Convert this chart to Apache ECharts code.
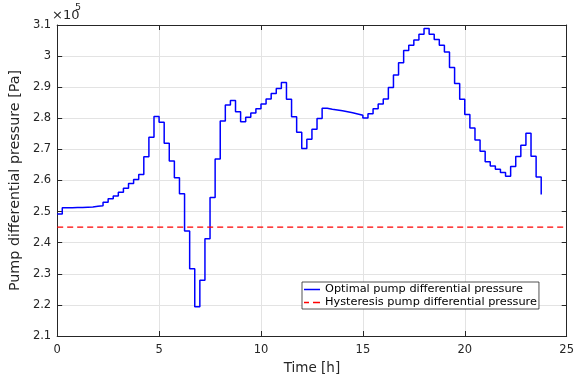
<!DOCTYPE html>
<html>
<head>
<meta charset="utf-8">
<script src="https://cdn.jsdelivr.net/npm/echarts@6/dist/echarts.min.js"></script>
<style>
  html, body { margin: 0; padding: 0; background: #ffffff; }
  #chart { width: 577px; height: 380px; }
</style>
</head>
<body>
<div id="chart"></div>
<script>
// Time [h] at the start of each 15-minute step
const times = [
  0, 0.25, 0.5, 0.75, 1, 1.25, 1.5, 1.75, 2, 2.25, 2.5, 2.75,
  3, 3.25, 3.5, 3.75, 4, 4.25, 4.5, 4.75, 5, 5.25, 5.5, 5.75,
  6, 6.25, 6.5, 6.75, 7, 7.25, 7.5, 7.75, 8, 8.25, 8.5, 8.75,
  9, 9.25, 9.5, 9.75, 10, 10.25, 10.5, 10.75, 11, 11.25, 11.5, 11.75,
  12, 12.25, 12.5, 12.75, 13, 13.25, 13.5, 13.75, 14, 14.25, 14.5, 14.75,
  15, 15.25, 15.5, 15.75, 16, 16.25, 16.5, 16.75, 17, 17.25, 17.5, 17.75,
  18, 18.25, 18.5, 18.75, 19, 19.25, 19.5, 19.75, 20, 20.25, 20.5, 20.75,
  21, 21.25, 21.5, 21.75, 22, 22.25, 22.5, 22.75, 23, 23.25, 23.5, 23.75
];
// Optimal pump differential pressure [x1e5 Pa]
const optimalPressure = [
  2.492, 2.512, 2.512, 2.513, 2.513, 2.514, 2.515, 2.517, 2.519, 2.530, 2.541, 2.550,
  2.562, 2.575, 2.590, 2.603, 2.619, 2.676, 2.739, 2.806, 2.787, 2.720, 2.663, 2.609,
  2.557, 2.438, 2.316, 2.194, 2.279, 2.413, 2.545, 2.669, 2.791, 2.843, 2.857, 2.821,
  2.789, 2.803, 2.817, 2.831, 2.846, 2.862, 2.880, 2.896, 2.915, 2.861, 2.805, 2.755,
  2.703, 2.733, 2.765, 2.799, 2.832, 2.829, 2.827, 2.824, 2.821, 2.818, 2.814, 2.810,
  2.801, 2.815, 2.831, 2.846, 2.862, 2.899, 2.939, 2.979, 3.018, 3.035, 3.052, 3.070,
  3.089, 3.070, 3.053, 3.035, 3.013, 2.963, 2.912, 2.861, 2.812, 2.769, 2.730, 2.694,
  2.660, 2.647, 2.636, 2.626, 2.614, 2.645, 2.677, 2.713, 2.752, 2.678, 2.611, 2.555
];
// Hysteresis pump differential pressure [x1e5 Pa]
const hysteresisTimes = [0, 25];
const hysteresisPressure = [2.45, 2.45];

const seriesNames = ['Optimal pump differential pressure', 'Hysteresis pump differential pressure'];
const xLabel = 'Time [h]';
const yLabel = 'Pump differential pressure [Pa]';

const FONT = 'DejaVu Sans';
const AX = '#262626';
const GRID = '#e3e3e3';

const chart = echarts.init(document.getElementById('chart'), null, { renderer: 'canvas' });

function yFmt(v) { return String(parseFloat(Number(v).toFixed(1))); }

const commonX = {
  type: 'value', min: 0, max: 25, interval: 5,
  axisLine: { show: true, onZero: false, lineStyle: { color: AX, width: 1 } },
  axisTick: { show: true, inside: true, length: 5, lineStyle: { color: AX, width: 1 } }
};
const commonY = {
  type: 'value', min: 2.1, max: 3.1, interval: 0.1,
  axisLine: { show: true, onZero: false, lineStyle: { color: AX, width: 1 } },
  axisTick: { show: true, inside: true, length: 5, lineStyle: { color: AX, width: 1 } }
};

chart.setOption({
  animation: false,
  backgroundColor: '#ffffff',
  grid: { left: 51, right: 7, top: 25, bottom: 43, containLabel: false },
  xAxis: [
    Object.assign({}, commonX, {
      position: 'bottom',
      axisLabel: { color: AX, fontFamily: FONT, fontSize: 11.5, margin: 8 },
      splitLine: { show: true, lineStyle: { color: GRID, width: 1 } },
      name: xLabel, nameLocation: 'middle', nameGap: 25,
      nameTextStyle: { color: AX, fontFamily: FONT, fontSize: 13.5 }
    }),
    Object.assign({}, commonX, {
      position: 'top',
      axisLabel: { show: false },
      splitLine: { show: false }
    })
  ],
  yAxis: [
    Object.assign({}, commonY, {
      position: 'left',
      axisLabel: { color: AX, fontFamily: FONT, fontSize: 11.5, margin: 6, formatter: yFmt },
      splitLine: { show: true, lineStyle: { color: GRID, width: 1 } },
      name: yLabel, nameLocation: 'middle', nameGap: 26,
      nameTextStyle: { color: AX, fontFamily: FONT, fontSize: 14.3 }
    }),
    Object.assign({}, commonY, {
      position: 'right',
      axisLabel: { show: false },
      splitLine: { show: false }
    })
  ],
  legend: {
    orient: 'vertical',
    left: 302, top: 282,
    padding: [2, 2, 1, 2],
    itemGap: 2,
    itemWidth: 16,
    itemHeight: 14,
    symbolKeepAspect: true,
    backgroundColor: '#ffffff',
    borderColor: AX,
    borderWidth: 0.8,
    borderRadius: 0,
    textStyle: { color: '#000000', fontFamily: FONT, fontSize: 11.3 },
    data: [
      { name: seriesNames[0], icon: 'path://M0,0h16v1.5h-16z' },
      { name: seriesNames[1], icon: 'path://M0,0h5v1.5h-5zM9,0h7v1.5h-7z' }
    ]
  },
  graphic: [
    { type: 'text', left: 52, top: 9, style: { text: '×10', fontFamily: FONT, fontSize: 13, fill: AX } },
    { type: 'text', left: 75, top: 3, style: { text: '5', fontFamily: FONT, fontSize: 9.5, fill: AX } }
  ],
  series: [
    {
      name: seriesNames[0],
      type: 'line',
      step: 'end',
      symbol: 'none',
      showSymbol: false,
      xAxisIndex: 0, yAxisIndex: 0,
      lineStyle: { color: '#0000ff', width: 1.5 },
      itemStyle: { color: '#0000ff' },
      data: times.map((t, i) => [t, optimalPressure[i]]),
      z: 3
    },
    {
      name: seriesNames[1],
      type: 'line',
      symbol: 'none',
      showSymbol: false,
      xAxisIndex: 0, yAxisIndex: 0,
      lineStyle: { color: '#ff0000', width: 1.3, type: [6, 4] },
      itemStyle: { color: '#ff0000' },
      data: hysteresisTimes.map((t, i) => [t, hysteresisPressure[i]]),
      z: 4
    }
  ]
});
</script>
</body>
</html>
